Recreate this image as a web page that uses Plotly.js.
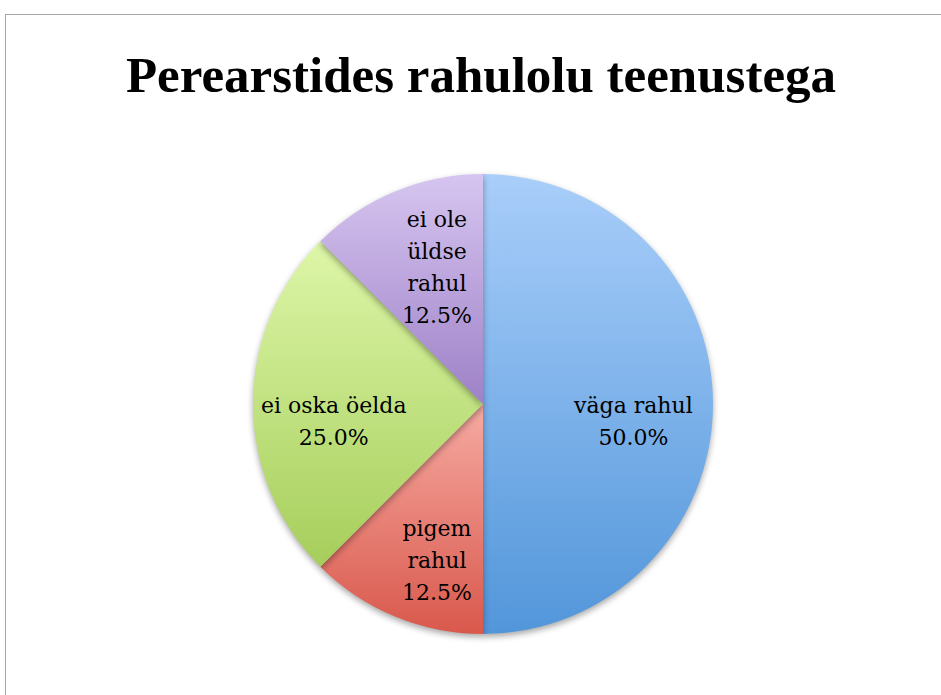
<!DOCTYPE html>
<html>
<head>
<meta charset="utf-8">
<script src="https://cdn.plot.ly/plotly-3.0.1.min.js"></script>
<style>
  html, body { margin: 0; padding: 0; background: #fff; }
  #wrap { position: relative; width: 941px; height: 695px; overflow: hidden; }
  #chart { position: absolute; left: 0; top: 0; width: 941px; height: 695px; }
  #frame { position: absolute; left: 5px; top: 14px; width: 1000px; height: 1000px;
           border-left: 1.5px solid #a6a6a6; border-top: 1.5px solid #a6a6a6; pointer-events: none; }
  .pielayer .slice path.surface { filter: drop-shadow(0px 3px 3px rgba(0,0,0,0.35)); }
</style>
</head>
<body>
<div id="wrap">
  <div id="chart"></div>
  <div id="frame"></div>
</div>
<script>
const chartTitle = "Perearstides rahulolu teenustega";
const categories = ["väga rahul", "pigem rahul", "ei oska öelda", "ei ole üldse rahul"];
const shares = [50.0, 12.5, 25.0, 12.5];
const textLabels = ["väga rahul", "pigem<br>rahul", "ei oska öelda", "ei ole<br>üldse<br>rahul"];
const gradTop = ["#a9cefa", "#f6aaa2", "#ddf6a8", "#d6c5f0"];
const gradBottom = ["#5296da", "#d9584c", "#a6ce5b", "#9e81c7"];
const midColors = ["#7db2ea", "#e88178", "#c2e282", "#b9a3dc"];

const W = 941, H = 695;
const cx = 483, cy = 404, r = 230;
const labelRadius = 0.65;
const lineSpacing = 1.45;
const labelShiftX = [0, 11, 0, 11];
const labelShiftY = [-18, -18, -18, -2];

const trace = {
  type: "pie",
  labels: categories,
  values: shares,
  sort: false,
  direction: "clockwise",
  rotation: 0,
  textinfo: "none",
  marker: { colors: midColors, line: { width: 0 } },
  hoverinfo: "none",
  domain: { x: [(cx - r) / W, (cx + r) / W], y: [1 - (cy + r) / H, 1 - (cy - r) / H] }
};

// label annotations placed along each slice's bisector (derived from the data)
const total = shares.reduce(function (a, b) { return a + b; }, 0);
let cum = 0;
const annotations = shares.map(function (v, i) {
  const mid = (cum + v / 2) / total * 2 * Math.PI;
  cum += v;
  const px = cx + labelRadius * r * Math.sin(mid);
  const py = cy - labelRadius * r * Math.cos(mid);
  return {
    xref: "paper", yref: "paper",
    x: px / W, y: 1 - py / H,
    xanchor: "center", yanchor: "middle",
    yshift: labelShiftY[i], xshift: labelShiftX[i],
    showarrow: false, align: "center",
    text: textLabels[i] + "<br>" + (v / total * 100).toFixed(1) + "%",
    font: { family: "DejaVu Serif", size: 22, color: "#000" }
  };
});

const layout = {
  width: W, height: H,
  margin: { l: 0, r: 0, t: 0, b: 0 },
  paper_bgcolor: "#fff",
  showlegend: false,
  annotations: annotations,
  title: {
    text: "<b>" + chartTitle + "</b>",
    font: { family: "Liberation Serif", size: 51, color: "#000" },
    x: 481 / W, xanchor: "center",
    y: 1 - 74 / H, yanchor: "middle"
  }
};

Plotly.newPlot("chart", [trace], layout, { staticPlot: true }).then(function (gd) {
  const svg = gd.querySelector("svg.main-svg");
  const ns = "http://www.w3.org/2000/svg";
  let defs = svg.querySelector("defs");
  if (!defs) { defs = document.createElementNS(ns, "defs"); svg.insertBefore(defs, svg.firstChild); }
  gradTop.forEach(function (c, i) {
    const g = document.createElementNS(ns, "linearGradient");
    g.setAttribute("id", "sliceGrad" + i);
    g.setAttribute("x1", "0"); g.setAttribute("y1", "0");
    g.setAttribute("x2", "0"); g.setAttribute("y2", "1");
    const s1 = document.createElementNS(ns, "stop");
    s1.setAttribute("offset", "0"); s1.setAttribute("stop-color", c);
    const s2 = document.createElementNS(ns, "stop");
    s2.setAttribute("offset", "1"); s2.setAttribute("stop-color", gradBottom[i]);
    g.appendChild(s1); g.appendChild(s2); defs.appendChild(g);
  });
  const paths = gd.querySelectorAll(".pielayer .slice path.surface");
  paths.forEach(function (p, i) { p.style.fill = "url(#sliceGrad" + i + ")"; });

  // widen label line spacing (keeping each block centred)
  gd.querySelectorAll(".annotation-text").forEach(function (t) {
    const lines = t.querySelectorAll("tspan.line");
    const n = lines.length;
    if (n < 2) return;
    const extra = lineSpacing - 1.3;
    lines.forEach(function (ln, k) {
      const dy = k * lineSpacing - (n - 1) * extra / 2;
      ln.setAttribute("dy", dy + "em");
    });
  });
});
</script>
</body>
</html>
